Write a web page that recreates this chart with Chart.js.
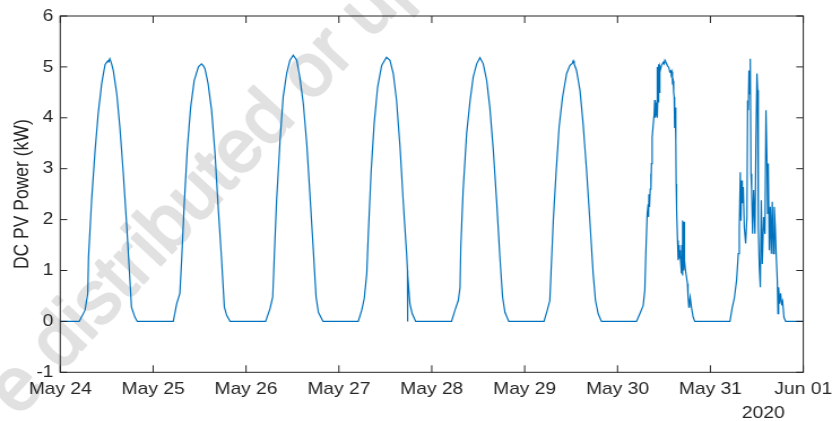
<!DOCTYPE html>
<html>
<head>
<meta charset="utf-8">
<script src="https://cdn.jsdelivr.net/npm/chart.js@4.4.1/dist/chart.umd.min.js"></script>
<style>
  html, body { margin: 0; padding: 0; background: #ffffff; }
  #wrap { width: 832px; height: 421px; overflow: hidden; position: relative; }
  /* the reference is stretched sideways, so the chart is drawn narrower and widened */
  #chart { transform-origin: 0 0; }
</style>
</head>
<body>
<div id="wrap"><canvas id="chart" width="736" height="421"></canvas></div>
<script>
// x is hours since May 24 00:00, each day given as [hour of day, kW]
const dayLabels = ['May 24', 'May 25', 'May 26', 'May 27', 'May 28', 'May 29', 'May 30', 'May 31', 'Jun 01'];
const yearLabel = '2020';
const yTicks = [-1, 0, 1, 2, 3, 4, 5, 6];

const may24 = [[4.9,0],[6.4,0.22],[7.1,0.54],[7.3,1.26],[8.1,2.38],[9.0,3.36],[9.8,4.08],[10.7,4.67],[11.3,4.93],[11.6,5.05],[12.0,5.09],[12.3,5.12],[12.5,5.1],[12.8,5.16],[13.2,5.08],[13.7,4.93],[14.6,4.47],[15.4,3.82],[16.3,2.90],[17.2,1.85],[18.0,0.81],[18.4,0.28],[19.3,0.08],[19.9,0]];
const may25 = [[5.2,0],[6.1,0.35],[6.9,0.55],[7.4,1.26],[8.0,2.25],[8.8,3.36],[9.7,4.21],[10.6,4.73],[11.7,5.0],[12.2,5.04],[12.5,5.06],[13.0,5.02],[13.4,4.96],[14.2,4.67],[15.1,4.15],[16.0,3.29],[16.8,2.25],[17.7,1.2],[18.4,0.28],[19.0,0.12],[19.9,0]];
const may26 = [[5.07,0],[6.2,0.25],[6.9,0.48],[7.3,1.26],[7.9,2.38],[8.8,3.56],[9.6,4.41],[10.5,4.87],[11.35,5.13],[12.2,5.23],[13.1,5.13],[13.9,4.80],[14.8,4.28],[15.7,3.49],[16.5,2.51],[17.4,1.39],[18.1,0.48],[18.7,0.18],[19.9,0]];
const may27 = [[5.0,0],[5.9,0.22],[6.55,0.45],[7.2,0.94],[7.6,1.72],[8.3,2.9],[9.1,3.88],[10.0,4.6],[11.05,5.03],[12.3,5.19],[13.2,5.13],[14.05,4.87],[14.9,4.34],[15.8,3.42],[16.6,2.38],[17.5,1.33],[17.72,1.0],[17.75,0],[17.78,0.92],[18.35,0.35],[18.95,0.15],[19.85,0]];
const may28 = [[5.1,0],[6.0,0.22],[6.85,0.41],[7.3,0.67],[7.5,1.46],[8.1,2.57],[9.0,3.69],[9.9,4.34],[10.7,4.8],[11.6,5.06],[12.45,5.18],[13.3,5.06],[14.2,4.73],[15.0,4.21],[15.9,3.36],[16.8,2.31],[17.6,1.26],[18.3,0.48],[18.9,0.18],[19.9,0]];
const may29 = [[5.0,0],[5.85,0.22],[6.5,0.41],[6.8,0.94],[7.4,1.98],[8.1,2.9],[8.9,3.82],[9.8,4.41],[10.85,4.87],[11.7,5.03],[12.3,5.07],[12.55,5.12],[12.8,5.06],[13.4,4.93],[14.3,4.54],[15.1,3.88],[16.0,2.97],[16.9,1.92],[17.7,0.94],[18.3,0.41],[19.0,0.15],[19.85,0]];
const may30 = [[4.9,0],[5.76,0.15],[6.62,0.31],[7.05,0.61],[7.31,1.33],[7.66,2.12],[7.91,2.3],[8.0,2.05],[8.1,2.5],[8.26,2.25],[8.45,2.6],[8.6,2.9],[8.65,2.6],[8.77,3.1],[8.95,3.62],[9.2,3.85],[9.46,4.08],[9.6,4.35],[9.7,4.0],[9.81,4.3],[9.9,4.05],[10.07,4.3],[10.15,4.1],[10.24,5.0],[10.32,4.0],[10.5,4.7],[10.58,4.3],[10.67,5.05],[10.75,4.5],[10.93,5.0],[11.1,4.95],[11.36,5.03],[11.79,5.09],[12.0,5.06],[12.22,5.13],[12.4,5.1],[12.65,5.07],[12.9,5.02],[13.25,4.99],[13.5,4.9],[13.77,4.92],[13.9,4.85],[14.11,4.9],[14.2,4.7],[14.37,4.73],[14.5,4.5],[14.63,4.41],[14.7,4.0],[14.8,3.8],[14.89,4.2],[15.06,3.56],[15.15,2.7],[15.23,2.4],[15.3,2.2],[15.5,1.59],[15.67,1.2],[15.75,1.45],[15.92,1.5],[16.0,1.25],[16.1,1.4],[16.27,1.3],[16.52,0.94],[16.6,1.5],[16.78,1.98],[16.85,0.9],[16.95,1.95],[17.1,1.0],[17.21,1.96],[17.3,1.2],[17.56,1.0],[18.07,0.74],[18.2,0.5],[18.42,0.28],[18.6,0.4],[18.76,0.48],[19.1,0.28],[19.54,0.08],[19.97,0]];
const may31 = [[5.05,0],[5.65,0.28],[6.17,0.45],[6.77,0.81],[7.2,1.33],[7.46,1.85],[7.72,2.93],[7.89,1.98],[8.06,2.77],[8.24,2.32],[8.49,2.64],[8.75,1.85],[9.1,1.53],[9.44,2.05],[9.61,4.34],[9.79,4.15],[9.96,4.93],[10.13,4.47],[10.3,5.16],[10.47,2.9],[10.65,2.58],[10.9,1.72],[11.16,2.58],[11.51,1.72],[11.77,3.56],[12.02,4.87],[12.2,4.54],[12.37,1.85],[12.63,1.07],[12.89,0.67],[13.15,2.38],[13.4,1.13],[13.75,2.05],[14.09,1.72],[14.35,4.15],[14.61,3.17],[14.78,2.12],[14.95,3.1],[15.21,1.4],[15.47,2.25],[15.73,1.33],[15.98,2.35],[16.24,1.33],[16.5,2.25],[16.76,1.85],[17.02,1.26],[17.28,0.81],[17.45,0.15],[17.62,0.67],[17.88,0.35],[18.14,0.55],[18.4,0.35],[18.65,0.4],[19.0,0.08],[19.43,0]];

const days = [may24, may25, may26, may27, may28, may29, may30, may31];

const STRETCH = 832 / 736;
document.getElementById('chart').style.transform = 'scaleX(' + STRETCH + ')';

const FONT = '"Liberation Sans", Arial, Helvetica, sans-serif';
const INK = '#262626';

// one continuous series, nights sit at zero
const points = [{x: 0, y: 0}];
days.forEach((day, i) => {
    day.forEach(p => points.push({x: i * 24 + p[0], y: p[1]}));
});
points.push({x: 192, y: 0});

// MATLAB style box with inward ticks, plus the year under the last tick
const boxPlugin = {
    id: 'matlabBox',
    afterDraw(chart) {
        const {ctx, chartArea: a, scales: {x, y}} = chart;
        ctx.save();
        ctx.strokeStyle = INK;
        ctx.lineWidth = 1;
        ctx.strokeRect(a.left, a.top, a.right - a.left, a.bottom - a.top);
        const tv = 7, th = 7 / STRETCH;
        ctx.beginPath();
        for (let i = 0; i < dayLabels.length; i++) {
            const px = x.getPixelForValue(i * 24);
            ctx.moveTo(px, a.bottom); ctx.lineTo(px, a.bottom - tv);
            ctx.moveTo(px, a.top); ctx.lineTo(px, a.top + tv);
        }
        yTicks.forEach(v => {
            const py = y.getPixelForValue(v);
            ctx.moveTo(a.left, py); ctx.lineTo(a.left + th, py);
            ctx.moveTo(a.right, py); ctx.lineTo(a.right - th, py);
        });
        ctx.stroke();
        ctx.fillStyle = INK;
        ctx.font = '17px ' + FONT;
        ctx.textAlign = 'center';
        ctx.textBaseline = 'alphabetic';
        ctx.fillText(yearLabel, x.getPixelForValue(192) - 40 / STRETCH, 418);
        ctx.restore();
    }
};

// grey diagonal watermark that sits behind the plot
const watermarkPlugin = {
    id: 'watermark',
    beforeDraw(chart) {
        const ctx = chart.ctx;
        ctx.save();
        ctx.scale(1 / STRETCH, 1);
        ctx.translate(18, 418);
        ctx.rotate(-47 * Math.PI / 180);
        ctx.font = '75px ' + FONT;
        ctx.fillStyle = '#e1e1e1';
        ctx.strokeStyle = '#e1e1e1';
        ctx.lineWidth = 2.5;
        ctx.lineJoin = 'round';
        ctx.textBaseline = 'alphabetic';
        ctx.strokeText('e distributed or up', 0, 0);
        ctx.fillText('e distributed or up', 0, 0);
        ctx.restore();
    }
};

new Chart(document.getElementById('chart'), {
    type: 'line',
    data: {
        datasets: [{
            label: 'DC PV Power',
            data: points,
            borderColor: '#0072BD',
            borderWidth: 1.2,
            pointRadius: 0,
            tension: 0,
            fill: false
        }]
    },
    options: {
        responsive: false,
        animation: false,
        layout: { padding: { top: 16, right: 25.4, left: 0, bottom: 0 } },
        plugins: {
            legend: { display: false },
            tooltip: { enabled: false }
        },
        scales: {
            x: {
                type: 'linear',
                min: 0,
                max: 192,
                grid: { display: false, drawTicks: false },
                border: { display: false },
                afterBuildTicks: s => { s.ticks = dayLabels.map((_, i) => ({value: i * 24})); },
                afterFit: s => { s.height = 48.7; s.paddingLeft = 0; s.paddingRight = 0; },
                ticks: {
                    autoSkip: false,
                    maxRotation: 0,
                    padding: 7,
                    color: INK,
                    font: { size: 17, family: FONT },
                    callback: v => dayLabels[Math.round(v / 24)]
                }
            },
            y: {
                min: -1,
                max: 6,
                grid: { display: false, drawTicks: false },
                border: { display: false },
                afterBuildTicks: s => { s.ticks = yTicks.map(v => ({value: v})); },
                afterFit: s => { s.width = 53.3; s.paddingTop = 0; s.paddingBottom = 0; },
                ticks: {
                    padding: 6,
                    color: INK,
                    font: { size: 17, family: FONT }
                },
                title: {
                    display: true,
                    text: 'DC PV Power (kW)',
                    color: INK,
                    padding: { top: 10, bottom: 0 },
                    font: { size: 17.5, family: FONT }
                }
            }
        }
    },
    plugins: [watermarkPlugin, boxPlugin]
});
</script>
</body>
</html>
